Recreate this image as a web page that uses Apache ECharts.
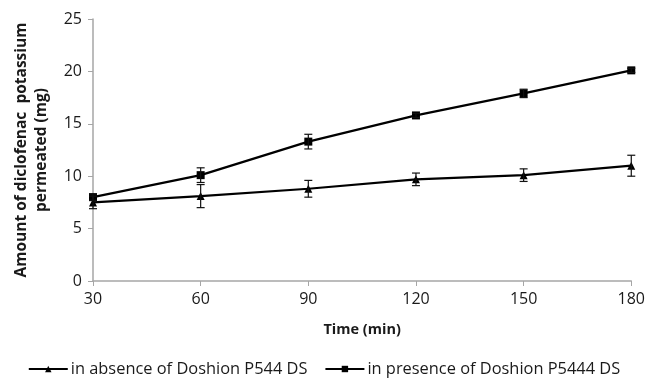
<!DOCTYPE html>
<html>
<head>
<meta charset="utf-8">
<script src="https://cdn.jsdelivr.net/npm/echarts@6/dist/echarts.min.js"></script>
<style>
  html, body { margin: 0; padding: 0; background: #fff; }
  #chart { width: 648px; height: 381px; }
</style>
</head>
<body>
<div id="chart"></div>
<script>
const times = [30, 60, 90, 120, 150, 180]
const absenceMean = [7.5, 8.1, 8.8, 9.7, 10.1, 11.0]
const absenceErr = [0.6, 1.1, 0.8, 0.6, 0.6, 1.0]
const presenceMean = [8.0, 10.1, 13.3, 15.8, 17.9, 20.1]
const presenceErr = [0.3, 0.7, 0.7, 0.2, 0.4, 0.2]

const absenceName = 'in absence of Doshion P544 DS'
const presenceName = 'in presence of Doshion P5444 DS'

const axisColor = '#a6a6a6'
const textColor = '#1a1a1a'
const fontFamily = '"Open Sans", "DejaVu Sans", sans-serif'

function errorData(means, errs) {
  return times.map((t, i) => [t, means[i] - errs[i], means[i] + errs[i]])
}

function renderErrorBar(params, api) {
  const x = api.value(0)
  const low = api.coord([x, api.value(1)])
  const high = api.coord([x, api.value(2)])
  const half = 4
  const style = { stroke: '#111', lineWidth: 1.2 }
  return {
    type: 'group',
    children: [
      { type: 'line', shape: { x1: low[0], y1: low[1], x2: high[0], y2: high[1] }, style },
      { type: 'line', shape: { x1: low[0] - half, y1: low[1], x2: low[0] + half, y2: low[1] }, style },
      { type: 'line', shape: { x1: high[0] - half, y1: high[1], x2: high[0] + half, y2: high[1] }, style }
    ]
  }
}

const chart = echarts.init(document.getElementById('chart'))

const option = {
  animation: false,
  textStyle: { fontFamily },
  grid: { left: 93, right: 14, top: 19, bottom: 100 },
  legend: {
    bottom: -1,
    left: 'center',
    itemWidth: 39,
    itemHeight: 8,
    itemGap: 17,
    data: [absenceName, presenceName],
    textStyle: { color: textColor, fontSize: 16.4, fontFamily, padding: [0, 0, 0, -2] }
  },
  xAxis: {
    type: 'value',
    min: 30,
    max: 180,
    interval: 30,
    name: 'Time (min)',
    nameLocation: 'middle',
    nameGap: 41,
    nameTextStyle: { color: textColor, fontSize: 14.5, fontWeight: 'bold', fontFamily },
    axisLine: { lineStyle: { color: axisColor, width: 1.5 } },
    axisTick: { show: true, length: 5, lineStyle: { color: axisColor } },
    axisLabel: { color: textColor, fontSize: 16, margin: 10 },
    splitLine: { show: false }
  },
  yAxis: {
    type: 'value',
    min: 0,
    max: 25,
    interval: 5,
    name: 'Amount of diclofenac  potassium\npermeated (mg)',
    nameLocation: 'middle',
    nameGap: 41,
    nameTextStyle: { color: textColor, fontSize: 15.5, fontWeight: 'bold', fontFamily, lineHeight: 20 },
    axisLine: { show: true, lineStyle: { color: axisColor, width: 1.5 } },
    axisTick: { show: true, length: 5, lineStyle: { color: axisColor } },
    axisLabel: { color: textColor, fontSize: 16, margin: 11 },
    splitLine: { show: false }
  },
  series: [
    {
      name: absenceName,
      type: 'line',
      data: times.map((t, i) => [t, absenceMean[i]]),
      symbol: 'triangle',
      symbolSize: 8,
      lineStyle: { color: '#000', width: 2.2 },
      itemStyle: { color: '#000' },
      z: 3
    },
    {
      name: presenceName,
      type: 'line',
      data: times.map((t, i) => [t, presenceMean[i]]),
      symbol: 'rect',
      symbolSize: 8,
      lineStyle: { color: '#000', width: 2.2 },
      itemStyle: { color: '#000' },
      z: 3
    },
    {
      type: 'custom',
      renderItem: renderErrorBar,
      data: errorData(absenceMean, absenceErr),
      encode: { x: 0, y: [1, 2] },
      z: 4
    },
    {
      type: 'custom',
      renderItem: renderErrorBar,
      data: errorData(presenceMean, presenceErr),
      encode: { x: 0, y: [1, 2] },
      z: 4
    }
  ]
}

chart.setOption(option)
</script>
</body>
</html>
